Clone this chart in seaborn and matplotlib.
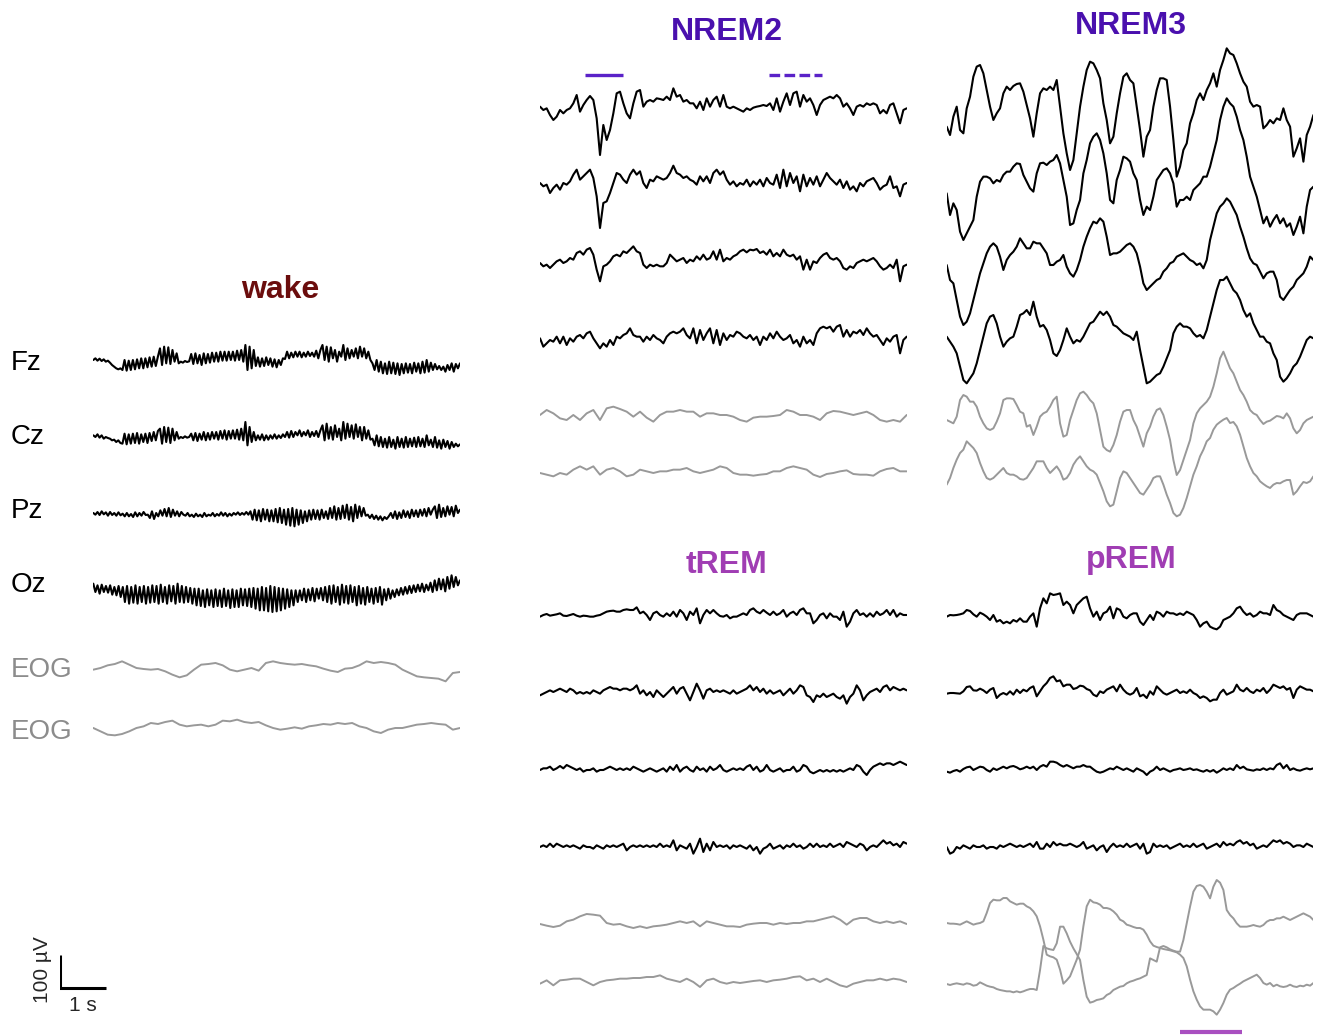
import numpy as np
import matplotlib
matplotlib.use("Agg")
import matplotlib.pyplot as plt
import seaborn as sns

sns.set_style("white")
plt.rcParams["font.family"] = ["Liberation Sans", "DejaVu Sans"]

# ------------------------------------------------------------------
# EEG / EOG epochs, 8 s each, amplitudes in microvolts
# ------------------------------------------------------------------
channels = ["Fz", "Cz", "Pz", "Oz", "EOG", "EOG"]
stages = ["wake", "NREM2", "NREM3", "tREM", "pREM"]

wake_fz = [0, 5, -2, 4, -3, 2, -5, -2,
           -8, -15, -20, -25, -28, -25,
           -30, 0, -32, -2, -30, 0, -28, 2, -25, 5, -25, 5, -22, 8, -20, 10, -18, 10,
           35, -15, 40, -10, 38, -12, 30, -5, 20, -10,
           -5, -8, -3, -6, -4,
           18, -12, 20, -10, 15, -15, 20, -10, 18, -8, 22, -5, 22, -5, 25, -2, 25, -2, 25, 0, 25, -2, 28, 0, 30, -5,
           45, -30, 40, -25, 30,
           -18, 8, -20, 5, -18, 8, -15, 5, -20, 2, -22, 0, -15, 5,
           3, 25, 5, 22, 8, 25, 10, 25, 8, 22, 10, 25, 12, 22, 10, 28, 5, 30,
           45, 0, 40, -5, 38, 5, 30, -5, 25, 10, 45, 0, 35, 5, 30, 10, 35, 5, 40, 10, 35, 5, 25, 0,
           -10, -30, 0, -35, -5, -40, -10, -42, -5, -40, -8, -42, -10, -45, -12, -40, -10, -38, -12, -40, -8,
           -35, -10, -40, -5, -38, 0, -35, -8, -30, -12, -28, -18, -30, -20, -35, -15, -30, -10, -35, -12, -25, -10]
wake_cz = [5, 0, 8, -2, 5, -5, 0, -3,
           -5, -10, -8, -15, -10, -18,
           -20, 10, -22, 8, -20, 10, -18, 12, -20, 8, -15, 10, -18, 12, -12, 15, -10, 18,
           25, -20, 30, -15, 28, -18, 25, -10, 15, -5,
           0, -3, 2, -2, 0,
           10, -10, 12, -12, 10, -8, 15, -10, 12, -8, 15, -5, 15, -8, 18, -5, 20, -8, 18, -5, 20, -5, 22, -8, 25, -10,
           45, -25, 30, -15, 15,
           -10, 5, -8, 8, -10, 5, -8, 5, -5, 8, -5, 5, -3, 8,
           0, 15, -2, 18, 0, 15, 5, 20, 2, 15, 5, 20, 0, 15, 3, 18, 0, 20,
           35, -10, 40, -5, 30, -8, 35, 0, 25, -10, 45, -5, 40, 0, 35, -5, 38, 0, 30, -10, 30, -5, 20, -8,
           -5, -25, 5, -28, 0, -30, -5, -32, 0, -30, -8, -35, 0, -30, -5, -32, 0, -30, -5, -28, -2,
           -30, 0, -28, -5, -30, 5, -25, -8, -30, 0, -32, -10, -35, -8, -30, -12, -35, -15, -30, -20, -28, -22]
wake_pz = [0, -5, 3, -6, 5, -4, 2, -8, 3, -6, 0, -8, 2, -7, -2, -10, 0, -10, -3, -12, 2, -10, 0, -8, 3, -6,
           -5, -15, 5, -18, 0, -10,
           8, -8, 12, -10, 15, -12, 10, -8, 5, -10, 3,
           -5, -8, 0, -10, -5, -12, -2, -10, -5, -12, 0, -10, -5, -8, 0, -10, -3, -8, 2, -8, 0, -10, -2, -8, 0, -5,
           2, -6, 0, -5, 3, -5,
           5, -20, 10, -22, 8, -25, 12, -20, 10, -25, 8, -25, 12, -28, 15, -30, 10, -35, 12, -38, 15, -40, 10, -35,
           8, -30, 5, -25, 8, -20, 10, -18, 8, -20, 10, -15, 5, -18,
           15, -15, 20, -20, 15, -18, 22, -15, 25, -20, 18, -25, 25, -15, 20, -10, 15, -8,
           -5, -15, -5, -18, -8, -20, -10, -22, -12, -18, -10,
           0, -15, 5, -18, 2, -15, 8, -12, 5, -15, 10, -10, 8, -12, 10, -8, 12, -10, 15, -5, 10,
           20, -15, 25, -12, 15, -10, 20, -5, 18, -10, 22, 0, 10]
wake_oz = [25, 0, 20, -5, 22, 0, 18, -2, 20, -8, 15, -10, 18, -15,
           15, -30, 18, -35, 15, -32, 20, -35, 15, -30, 18, -35, 15, -32, 20, -30, 18, -35, 22, -30, 15, -35,
           20, -28, 18, -35, 25, -30, 18, -32, 15, -30, 12, -35, 10,
           -40, 10, -42, 5, -45, 8, -40, 5, -45, 8, -42, 5, -45, 10, -42, 5, -48, 8, -45, 5, -45, 10, -40, 8,
           -42, 10,
           -45, 12, -50, 10, -55, 15, -55, 12, -58, 18, -60, 15, -58, 12, -55, 10, -50, 8, -45, 5, -40, 5,
           -30, 5, -25, 10, -30, 8, -25, 12, -28, 10, -20, 12, -25,
           15, -30, 18, -35, 20, -30, 15, -38, 22, -32, 18, -35, 20, -30, 15, -40, 18, -35, 12, -38, 15, -30,
           10, -35, 12, -30, 15, -38, 8, -25, 10, -20,
           5, -15, 8, -10, 12, -8, 15, -5, 18, -3, 20, 0, 22, 2, 25, 0, 22, 5, 28,
           0, 35, 5, 40, 8, 38, 2, 45, 10, 50, 15, 45, 20, 35]
wake_eog1 = [-5, 0, 8, 12, 20, 10, 0, -3, -5, -3, -10, -20, -28, -22, -5, 10, 12, 15, 8, -5,
             -10, -5, 0, -8, 15, 20, 15, 12, 10, 12, 8, 5, -2, -8, -12, -2, 0, 8, 20, 15,
             18, 15, 10, -5, -15, -25, -28, -30, -32, -40, -15, -12]
wake_eog2 = [0, -10, -20, -22, -18, -10, 0, 5, 15, 12, 18, 22, 10, 5, 8, 10, 5, 10, 22, 20,
             25, 18, 15, 18, 8, 0, -5, -2, 2, -2, 5, 8, 12, 10, 15, 12, 15, 5, 0, -10,
             -15, -5, 0, 0, 5, 10, 12, 15, 12, 10, -5, 0]

nrem2_fz = [-5, -15, -10, -30, -45, -35, -15, -25, -15, -10,
            5, 30, -20, 0, 15, 27, 15, -40, -150, -60,
            -105, -75, -25, 35, 40, 5, -25, -40, 5, 40,
            45, -5, 10, 15, 10, 20, 18, 15, 25, 15,
            50, 25, 30, 10, 15, 5, 5, -10, 10, -15,
            20, -5, 15, 25, -5, 30, -5, -10, -5, -10,
            -15, -20, -10, -15, -8, -5, -3, 0, -3, 5,
            -15, 20, -20, 10, 35, 0, 35, 40, -5, 30,
            10, 20, 0, -30, 0, 15, 20, 25, 20, 30,
            20, -5, 5, -10, -30, -5, 0, -5, 5, 0,
            5, 0, -25, -15, -25, 0, 5, -25, -55, -15, -10]
nrem2_cz = [0, -10, -5, -30, -15, -5, -20, 0, -5, 5,
            25, 40, 10, 20, 30, 40, 15, -40, -135, -60,
            -55, -30, 0, 30, 25, 10, 0, 25, 40, 25,
            35, 0, -15, 10, 5, 20, 15, 10, 15, 30,
            52, 30, 25, 15, 20, 10, 5, -5, 20, 5,
            20, 0, 30, 40, 25, 35, 10, -5, 5, -10,
            0, -5, 10, -10, 5, -5, 10, -10, 15, 0,
            -5, 25, -15, 40, -10, 30, 0, 20, -25, 25,
            -10, 15, -5, 20, -10, 10, 30, 15, 5, -5,
            10, -15, 5, -20, -10, -25, 0, -10, 5, 10,
            15, 0, -20, -10, -5, 20, -15, -10, -40, -5, 0]
nrem2_pz = [0, -10, -5, -15, -5, 5, 10, 0, 5, 15,
            10, 30, 35, 25, 40, 45, 25, -20, -55, -10,
            -5, 5, 20, 25, 20, 35, 30, 40, 50, 35,
            30, -5, -15, -5, -10, -5, -10, -10, 0, 25,
            15, 5, 10, 15, 0, 10, 5, 20, 10, 25,
            10, 15, 35, 10, 40, 5, 15, 10, 20, 25,
            35, 40, 32, 40, 38, 42, 30, 35, 25, 40,
            20, 30, 20, 40, 25, 20, 25, 10, 20, -20,
            10, -20, 5, 0, 15, 25, 30, 15, 10, 15,
            5, -15, -20, -10, -15, 0, 5, 10, 5, 10,
            15, 5, -10, -20, -15, -5, -15, 10, -55, -10, -5]
nrem2_oz = [5, -20, -10, 0, -5, 10, -10, 10, -15, 5,
            -5, 10, 15, 5, 20, 25, 5, -10, -25, -10,
            -20, 0, -15, 10, 5, 15, 20, 35, 15, 10,
            10, -5, 10, 0, 15, 5, 0, -10, 10, 20,
            25, 20, 25, 35, 15, 5, 35, -10, 30, 0,
            20, 35, -10, 30, -15, 20, 0, 15, 10, 25,
            20, 10, 5, 15, 0, 10, -15, 10, 0, 20,
            5, 25, 10, 0, 5, 15, -10, 0, -20, 10,
            -10, 0, -15, 20, 35, 40, 35, 40, 25, 40,
            45, 10, 30, 10, 25, 20, 30, 15, 35, 20,
            10, 15, 0, -15, 5, -5, 10, 15, -40, 0, 10]
nrem2_eog1 = [0, 15, 5, -10, -15, 0, -15, 5, 15, -15,
              20, 25, 18, 10, -5, 10, -8, -20, 0, 10,
              10, 15, 10, 10, -5, 5, 5, 0, 0, -5,
              -15, -20, -8, -5, -5, -3, 0, 15, 10, 0,
              0, -5, -15, 5, 12, 10, 5, 0, 5, 10,
              0, -15, -20, -15, -20, 0]
nrem2_eog2 = [0, -5, -10, 0, -5, 10, 20, 10, 20, -5,
              10, 15, 5, -10, -5, 10, 5, 0, 5, 5,
              10, 10, 15, 5, 0, 5, 10, 20, 15, 0,
              -5, -5, -8, -5, -3, 5, 5, 15, 20, 15,
              10, -5, -12, -3, 0, 5, 8, -3, -5, -5,
              -8, 5, 12, 15, 5, 5]

nrem3_fz = [-50, -75, -20, 10, -60, -70, 5, 40, 100, 130,
            135, 110, 60, 10, -30, -10, 5, 50, 70, 60,
            72, 78, 80, 55, 15, -25, -80, -10, 50, 65,
            60, 70, 60, 90, 10, -70, -130, -180, -150, -70,
            10, 70, 120, 145, 140, 120, 95, 20, -30, -100,
            -80, -10, 50, 100, 110, 90, 80, 10, -60, -140,
            -80, -60, 10, 60, 95, 95, 90, 10, -90, -200,
            -170, -120, -100, -40, -10, 30, 50, 30, 60, 80,
            110, 70, 120, 150, 185, 170, 165, 140, 110, 85,
            70, 25, 10, 15, 10, -55, -45, -30, -40, -25,
            -30, 5, -30, -50, -140, -115, -85, -155, -75, -50, -15]
nrem3_cz = [-10, -75, -40, -60, -125, -150, -130, -110, -90, -20,
            25, 40, 40, 35, 20, 30, 25, 45, 55, 55,
            70, 80, 78, 45, 25, 5, -5, 50, 80, 82,
            75, 85, 90, 105, 80, 30, -20, -105, -100, -60,
            -30, 50, 90, 140, 160, 170, 150, 110, 50, -30,
            -40, 30, 60, 100, 95, 85, 50, 30, -30, -75,
            -50, -60, -20, 30, 45, 60, 65, 50, 20, -50,
            -30, -30, -20, -30, 0, 10, 20, 40, 40, 70,
            110, 150, 210, 250, 275, 260, 250, 220, 180, 150,
            100, 40, 10, -20, -60, -100, -80, -110, -90, -75,
            -100, -85, -110, -100, -135, -110, -80, -130, -50, 0, 10]
nrem3_pz = [0, -45, -55, -105, -155, -180, -170, -145, -105, -65,
            -25, 5, 35, 55, 65, 55, 25, -15, 15, 30,
            40, 55, 80, 65, 50, 50, 70, 65, 65, 50,
            35, 0, 0, 10, 15, 30, -5, -25, -35, -15,
            15, 55, 85, 110, 130, 125, 140, 130, 85, 30,
            35, 35, 40, 50, 60, 65, 55, 35, -5, -55,
            -75, -65, -55, -45, -40, -20, -10, 5, 10, 25,
            30, 35, 25, 15, 10, 0, 5, -10, 15, 75,
            115, 155, 175, 185, 200, 190, 170, 150, 115, 85,
            50, 20, 5, 0, -20, -40, -25, -20, -20, -45,
            -95, -105, -90, -75, -65, -45, -35, -25, -5, 25, 15]
nrem3_oz = [10, -5, -20, -40, -80, -120, -130, -115, -100, -70,
            -30, 10, 50, 70, 75, 50, 10, -20, -5, 5,
            10, 40, 75, 80, 90, 75, 115, 70, 40, 45,
            30, 0, -40, -48, -30, 0, 35, 10, -10, 0,
            -5, 10, 30, 50, 55, 70, 85, 75, 85, 70,
            45, 40, 30, 20, 15, 10, 0, 25, -30, -80,
            -130, -125, -115, -105, -100, -80, -55, -30, 20, 40,
            50, 40, 40, 35, 20, 10, 15, 5, 30, 70,
            110, 150, 180, 180, 190, 170, 150, 140, 120, 90,
            70, 80, 50, 30, 10, 10, -5, -10, -40, -60,
            -110, -125, -115, -100, -80, -70, -50, -25, 0, 10, 5]
nrem3_eog1 = [0, -5, -10, 10, 60, 75, 70, 55, 55, 40,
              10, -10, -25, -30, -25, -5, 20, 60, 65, 65,
              63, 45, 25, 20, -20, -15, -45, -20, 10, 20,
              25, 40, 60, 70, -10, -50, -45, 0, 30, 60,
              80, 85, 75, 60, 50, 20, -30, -80, -90, -95,
              -75, -45, -5, 25, 30, 30, 0, -20, -50, -80,
              -40, -20, 10, 30, 35, 15, -20, -60, -120, -165,
              -150, -120, -90, -60, -10, 20, 35, 45, 55, 70,
              100, 140, 185, 205, 180, 155, 140, 115, 90, 75,
              55, 30, 20, 15, 0, -12, -5, -2, 5, 12,
              10, 5, 20, 5, -25, -40, -30, -10, 0, 5, 10]
nrem3_eog2 = [-20, 0, 30, 55, 75, 85, 110, 100, 90, 75,
              45, 20, 0, -5, 0, 10, 20, 30, 15, 10,
              10, 5, -3, -5, 0, 15, 30, 50, 50, 50,
              30, 15, 25, 35, 20, -5, 0, 15, 40, 55,
              65, 50, 35, 25, 20, 10, -15, -40, -70, -85,
              -80, -40, 0, 20, 15, 0, -15, -30, -45, -50,
              -35, -20, 0, 5, 5, -20, -50, -75, -105, -115,
              -110, -90, -60, -25, 10, 35, 65, 85, 110, 120,
              145, 160, 168, 175, 180, 165, 168, 155, 130, 95,
              60, 35, 15, 5, -10, -18, -25, -30, -20, -15,
              -16, -10, -6, -6, -50, -40, -25, -12, -15, -10, 5]

trem_fz = [-5, 0, 3, -2, 0, 2, 5, -2, -3, 0,
           3, -2, -5, -2, -3, -5, -5, -2, 0, 5,
           10, 12, 13, 10, 10, 15, 17, 15, 15, 23,
           5, 10, 0, -15, 5, 10, 0, -5, 5, -3,
           10, -5, 15, 5, -15, 10, 0, 20, -25, 0,
           15, 5, 15, 5, -3, -5, 0, -10, -5, -5,
           0, 5, 0, 15, 20, 10, 5, 15, 7, 0,
           10, 0, 5, 15, -5, 5, 10, 0, 15, 20,
           5, 5, -25, -15, 0, 5, -10, 5, -5, -5,
           -15, 10, -35, -20, 5, 15, 0, 5, -5, 5,
           -5, 10, 0, 5, 15, 0, 15, -5, 5, 0, 0]
trem_cz = [-10, -5, 0, 5, 0, 5, 10, 5, 0, 10,
           5, -5, 0, -5, 0, -5, 5, 0, -5, 5,
           10, 15, 10, 10, 5, 10, 10, 5, 10, 20,
           -5, 5, -10, 0, -15, 5, -5, -15, -5, 5,
           15, -5, 10, 15, -5, -25, 0, 25, 5, -20,
           5, 10, 0, 5, 0, 5, 0, -5, 5, -5,
           0, 5, 10, 20, 5, 15, 0, 10, -5, 5,
           -5, 0, 5, -10, 0, 10, -5, 5, 20, 15,
           -10, -15, -30, -10, -15, -5, -15, -10, -5, -15,
           -20, -10, -35, -15, -5, 20, 5, -25, -10, 0,
           5, 10, 0, 15, 20, 5, 15, 10, 5, 10, 5]
trem_pz = [0, 5, 5, 10, 0, 5, 12, 5, 15, 10,
           5, 0, 5, -5, 0, 0, 5, -5, 0, 0,
           5, 10, 5, 0, 5, 0, 5, 0, 10, 5,
           0, -5, 0, 5, 0, -5, 0, 5, -5, 10,
           0, 15, -5, 5, 10, 0, -5, 10, 0, 5,
           -5, 10, 0, 5, 15, 0, -5, 0, 5, 0,
           5, 0, 10, 15, 0, 10, -5, 0, 15, 0,
           -5, 0, 5, -5, 0, 0, 10, -5, 0, 15,
           10, -5, -10, -5, 0, -5, 0, -5, 0, -5,
           0, -5, 0, 5, 0, 15, 10, -5, -15, 0,
           10, 15, 20, 15, 20, 20, 15, 20, 25, 20, 15]
trem_oz = [0, 5, 0, 10, 0, 10, 5, 0, 5, 0,
           5, 0, -5, 5, 0, 0, -5, 5, 0, -5,
           5, 0, 5, 0, 5, 10, -10, 0, 5, 0,
           5, 0, 5, 0, 5, 0, 10, 0, 5, 0,
           20, -10, 5, 0, -5, 10, -20, 0, 25, -15,
           10, -10, 15, 0, 5, 0, 5, -5, 5, 0,
           5, 0, -5, 5, -10, 0, -20, -5, 0, 10,
           -5, 0, 5, -5, 5, 0, 10, 0, 5, -5,
           0, 10, 0, 10, 0, 5, 0, 10, 0, 5,
           10, 0, 15, 10, 5, 0, 10, 5, -10, 0,
           5, 0, 10, 20, 10, 15, 5, 10, 0, 15, 10]
trem_eog1 = [-3, -8, -12, -8, 5, 10, 20, 27, 25, 22,
             0, -5, -3, -10, -15, -10, -15, -10, -8, -5,
             0, 5, 0, 5, -10, 5, 0, -5, -10, -10,
             -12, -5, -2, 0, 0, -5, 0, -3, 0, 0,
             5, 5, 10, 15, 20, 10, -5, 10, 15, 15,
             5, 0, 5, 0, 5, -3]
trem_eog2 = [-5, 5, -10, 5, 7, 10, 10, 0, -10, 0,
             5, 7, 10, 10, 12, 12, 15, 15, 20, 10,
             5, 0, 10, 0, -15, 5, 10, 0, -5, 0,
             -3, 0, 3, 5, 0, 5, 7, 10, 15, 17,
             5, 10, 0, 10, 0, -10, -15, -5, 0, 5,
             5, 10, 5, 10, 7, 0]

prem_fz = [-2, 3, 2, 3, 5, 8, 18, 15, 5, -2,
           10, 5, -2, -12, 3, -17, -12, -22, -17, -22,
           -12, -17, -7, -17, -17, -2, 8, -32, 23, 53,
           38, 68, 63, 65, 68, 33, 43, 33, 8, 33,
           43, 53, 58, 23, -2, 13, -12, 8, 13, 28,
           -7, 23, 18, -2, -7, 3, 8, 8, -17, -27,
           -12, 3, -12, 13, 8, -2, 13, 8, 8, 3,
           8, 3, 13, 8, 3, -12, -32, -22, -17, -32,
           -37, -40, -32, -12, -7, -2, 8, 23, 28, 13,
           3, 8, -2, 3, 13, 8, 8, 3, 33, 18,
           13, 3, -2, -7, -12, 3, 8, 8, 8, 3, -2]
prem_cz = [-2, 0, 0, -1, -2, 5, 18, 20, 8, 7,
           13, 8, 0, 10, 15, -15, -5, 0, -5, 5,
           -5, 10, 0, 10, 5, 15, 20, -10, 5, 20,
           30, 45, 50, 35, 38, 20, 25, 25, 12, 15,
           22, 20, 12, 8, -5, -10, 5, 0, 10, 15,
           20, 5, 25, 10, 0, -5, 0, 15, -10, -5,
           -15, 5, -5, 20, 10, 0, -5, 0, 5, 10,
           0, 5, 0, 10, 0, -5, -15, -10, -15, -25,
           -20, -20, 0, 10, -5, 0, 5, 25, 10, 5,
           15, 5, 0, 10, 5, 15, 0, 10, 25, 20,
           15, 20, 10, 15, -15, 10, 20, 15, 10, 10, 5]
prem_pz = [-5, -8, -3, 0, -5, 3, 8, 10, 0, 5,
           10, 8, 0, -5, 5, 0, 5, 10, 5, 10,
           12, 8, 2, 5, 10, 5, 10, 0, 10, 15,
           10, 25, 25, 22, 15, 10, 15, 10, 5, 10,
           10, 15, 10, 10, 2, -5, -8, -5, 0, 5,
           2, 10, 5, 0, 5, 0, -5, 5, 0, -5,
           -15, -5, 0, 10, 0, 5, 0, -5, 0, 2,
           5, 0, 2, 5, 0, 2, -2, -5, 0, -5,
           0, -8, -2, 5, 0, 5, 0, 15, 5, 10,
           2, 0, -2, 2, 0, 5, 0, 5, 2, 15,
           20, 5, 15, 0, 5, 0, -2, 2, 5, 2, 5]
prem_oz = [0, -20, -15, 0, -5, 5, 0, -5, 5, 0,
           0, 5, -5, 0, 0, -5, 5, 0, 5, 10,
           5, 0, 5, 0, 5, 10, 0, 15, -5, -5,
           10, 0, 15, 5, 10, 5, 5, 10, 5, 0,
           5, 15, -5, 0, 5, -10, 0, 5, -15, 0,
           10, 0, 5, 0, 10, 0, 5, 10, -5, 10,
           -20, -15, 10, 0, 5, 0, 5, -5, 0, 5,
           10, 0, 5, 0, 10, 0, 5, 10, -5, 0,
           5, 10, 0, 15, 5, 10, 5, 15, 20, 10,
           15, 5, 10, -5, 0, 5, 0, 10, 20, 15,
           20, 10, 15, 10, 0, 5, 5, 0, 10, 5, 0]
prem_eog1 = [0, -2, -2, -3, -5, 0, 5, 0, -5, -2,
             0, 5, 30, 60, 70, 68, 68, 75, 75, 65,
             60, 55, 58, 58, 50, 45, 35, 20, -10, -50,
             -95, -100, -103, -110, -140, -182, -172, -160, -135, -110,
             -80, -10, 50, 70, 62, 60, 55, 45, 45, 42,
             35, 25, 10, 5, -5, -8, -12, -15, -15, -20,
             -35, -55, -68, -72, -75, -78, -80, -82, -85, -88,
             -95, -105, -130, -170, -205, -230, -250, -260, -260, -260,
             -265, -275, -260, -240, -215, -200, -195, -188, -182, -175,
             -170, -165, -160, -155, -165, -180, -185, -180, -190, -185,
             -190, -192, -190, -185, -190, -192, -188, -190, -185, -188, -180]
prem_eog2 = [0, -3, 0, 2, 0, -2, 2, 0, -5, -3,
             5, 0, -5, -8, -10, -15, -18, -20, -22, -22,
             -25, -22, -25, -22, -18, -15, -15, -18, 42, 114,
             107, 104, 102, 122, 172, 172, 152, 127, 107, 90,
             72, 12, -38, -56, -53, -48, -46, -43, -33, -28,
             -18, -13, -8, -6, 2, 7, 10, 14, 17, 22,
             27, 77, 72, 67, 110, 114, 110, 104, 100, 97,
             97, 132, 182, 232, 277, 294, 297, 292, 277, 257,
             292, 312, 304, 282, 222, 207, 197, 182, 172, 172,
             172, 174, 177, 174, 172, 177, 187, 192, 192, 197,
             197, 202, 197, 192, 197, 202, 207, 212, 207, 202, 192]

# Scored events (start s, end s)
nrem2_spindle = [0.98, 1.80]
nrem2_kcomplex = [5.00, 6.15]
prem_event = [5.10, 6.45]

# ------------------------------------------------------------------
# Layout (figure pixels)
# ------------------------------------------------------------------
W, H = 1323, 1036
UV_PER_PX = 3.0
EPOCH = 8.0
PX_PER_S = 366.7 / EPOCH

BLACK = "#000000"
GRAY = "#999999"
WAKE_C = "#6B0D0D"
NREM_C = "#4A10AE"
REM_C = "#A03DB3"
NREM_BAR = "#5A22C8"
REM_BAR = "#A94FC0"

fig = plt.figure(figsize=(W / 100, H / 100), dpi=100)


def panel_axes(x_left):
    ax = fig.add_axes([x_left / W, 0, (EPOCH * PX_PER_S) / W, 1])
    ax.set_xlim(0, EPOCH)
    ax.set_ylim(-H * UV_PER_PX, 0)
    ax.set_axis_off()
    return ax


def draw_panel(ax, traces, rows_px):
    for i, (vals, row) in enumerate(zip(traces, rows_px)):
        v = np.asarray(vals, dtype=float)
        t = np.linspace(0, EPOCH, len(v))
        color = BLACK if i < 4 else GRAY
        lw = 1.5 if i < 4 else 1.4
        sns.lineplot(x=t, y=v - row * UV_PER_PX, ax=ax, color=color,
                     linewidth=lw, sort=False, estimator=None)


panels = {
    "wake": (93.3, [wake_fz, wake_cz, wake_pz, wake_oz, wake_eog1, wake_eog2],
             [360, 437, 513, 592, 668, 728]),
    "NREM2": (540.0, [nrem2_fz, nrem2_cz, nrem2_pz, nrem2_oz, nrem2_eog1, nrem2_eog2],
              [105, 183, 263, 340, 415, 473]),
    "NREM3": (946.7, [nrem3_fz, nrem3_cz, nrem3_pz, nrem3_oz, nrem3_eog1, nrem3_eog2],
              [110, 190, 265, 340, 420, 478]),
    "tREM": (540.0, [trem_fz, trem_cz, trem_pz, trem_oz, trem_eog1, trem_eog2],
             [615, 692, 770, 847, 923, 982]),
    "pREM": (946.7, [prem_fz, prem_cz, prem_pz, prem_oz, prem_eog1, prem_eog2],
             [616, 693, 770, 847, 923, 984]),
}

axes = {}
for name in stages:
    x_left, traces, rows = panels[name]
    ax = panel_axes(x_left)
    draw_panel(ax, traces, rows)
    axes[name] = ax

# event markers
ax = axes["NREM2"]
ax.plot(nrem2_spindle, [-75 * UV_PER_PX] * 2, color=NREM_BAR, lw=2.4,
        solid_capstyle="butt")
ax.plot(nrem2_kcomplex, [-75 * UV_PER_PX] * 2, color=NREM_BAR, lw=2.4,
        dashes=(3.2, 1.3), dash_capstyle="butt")
axes["pREM"].plot(prem_event, [-1032 * UV_PER_PX] * 2, color=REM_BAR, lw=3.0,
                  solid_capstyle="butt", clip_on=False)

# stage titles
titles = [("wake", 280, 298, WAKE_C), ("NREM2", 727, 40, NREM_C),
          ("NREM3", 1131, 34, NREM_C), ("tREM", 726, 573, REM_C),
          ("pREM", 1131, 568, REM_C)]
for text, x, y, c in titles:
    fig.text(x / W, 1 - y / H, text, ha="center", va="baseline",
             fontsize=23, fontweight="bold", color=c)

# channel labels
label_rows = [370, 444, 518, 592, 677, 739]
for ch, y in zip(channels, label_rows):
    fig.text(11 / W, 1 - y / H, ch, ha="left", va="baseline", fontsize=20,
             color=BLACK if ch != "EOG" else "#8c8c8c")

# scale bar: 1 s x 100 uV
sb = fig.add_axes([60 / W, 0, 80 / W, 1])
sb.set_xlim(0, 80 / PX_PER_S)
sb.set_ylim(-H * UV_PER_PX, 0)
sb.set_axis_off()
base = -988 * UV_PER_PX
sb.plot([0, 0, 1], [base + 100, base, base], color=BLACK, lw=2.2,
        solid_joinstyle="miter", solid_capstyle="butt")
fig.text(43 / W, 1 - 970 / H, "100 µV", rotation=90, ha="center",
         va="center", fontsize=15)
fig.text(83 / W, 1 - 1011 / H, "1 s", ha="center", va="baseline", fontsize=15)

fig.savefig("out.png", dpi=100)
